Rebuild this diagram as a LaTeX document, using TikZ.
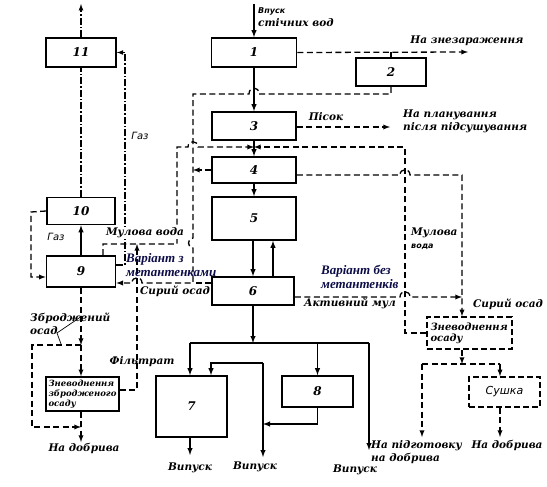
\documentclass[tikz,border=0pt]{standalone}
\usepackage{fontspec}
\setmainfont{DejaVu Serif}
\newfontfamily\varfont{Liberation Serif}
\newfontfamily\sansfam{DejaVu Sans}
\usetikzlibrary{arrows, positioning}
\definecolor{navy}{RGB}{12,12,70}

\begin{document}
\begin{tikzpicture}[x=1pt, y=-1pt, >=latex,
        box/.style={draw, line width=1.6pt, font=\fontsize{12}{13}\selectfont\bfseries\itshape, inner sep=1pt},
        dbox/.style={box, line width=1.4pt, dash pattern=on 6pt off 3pt},
        flow/.style={line width=1.4pt},
        sludge/.style={line width=1.3pt, dash pattern=on 6pt off 3.5pt},
        gas/.style={line width=1.2pt, dash pattern=on 7pt off 2pt on 1.5pt off 2pt},
        lbl/.style={font=\fontsize{10.5}{13}\selectfont\bfseries\itshape, inner sep=1pt, align=left},
        small/.style={font=\fontsize{8.5}{10}\selectfont\bfseries\itshape, align=left},
        variant/.style={font=\varfont\fontsize{13}{14}\selectfont\bfseries\itshape, text=navy, align=left, inner sep=0pt}
    ]
        \useasboundingbox (0,0) rectangle (547,487);

        % Boxes
        \node[box, minimum width=70pt, minimum height=29pt] (b11) at (81,52.5) {11};
        \node[box, minimum width=85pt, minimum height=29pt] (b1) at (254,52.5) {1};
        \node[box, minimum width=70pt, minimum height=28pt] (b2) at (391,72) {2};
        \node[box, minimum width=84pt, minimum height=28pt] (b3) at (254,126) {3};
        \node[box, minimum width=84pt, minimum height=26pt] (b4) at (254,170) {4};
        \node[box, minimum width=84pt, minimum height=43pt] (b5) at (254,218.5) {5};
        \node[box, minimum width=82pt, minimum height=28pt] (b6) at (253,291) {6};
        \node[box, minimum width=68pt, minimum height=27pt] (b10) at (81,211) {10};
        \node[box, minimum width=69pt, minimum height=31pt] (b9) at (81,271.5) {9};
        \node[box, minimum width=71pt, minimum height=61pt] (b7) at (191.5,406.5) {7};
        \node[box, minimum width=71pt, minimum height=31pt] (b8) at (317.5,391.5) {8};
        \node[box, small, minimum width=73pt, minimum height=34pt, inner sep=2pt] (bzz) at (82.5,394) {Зневоднення\\зброджeного\\осаду};
        \node[dbox, small, font=\fontsize{10}{11}\selectfont\bfseries\itshape, minimum width=85pt, minimum height=32pt, text width=78pt] (bzo) at (469.5,333) {Зневоднення\\осаду};
        \node[dbox, font=\sansfam\fontsize{11}{12}\selectfont\itshape, minimum width=71pt, minimum height=30pt] (bsu) at (504.5,392) {Сушка};

        % Points
        \coordinate (in) at (254,4);
        \coordinate (gas1) at (81,4);
        \coordinate (g9) at (125,265);
        \coordinate (dis) at (468,52);
        \coordinate (sand) at (390,127);
        \coordinate (lft2) at (193,94);
        \coordinate (j9) at (193,283);
        \coordinate (mv) at (103,244);
        \coordinate (mv2) at (177,244);
        \coordinate (j34l) at (177,147);
        \coordinate (fil) at (137,390);
        \coordinate (g10) at (31,212);
        \coordinate (zo) at (81,345);
        \coordinate (zl) at (32,345);
        \coordinate (zb) at (81,427);
        \coordinate (nd1) at (81,442);
        \coordinate (ld) at (61,344);
        \coordinate (h4) at (462,175);
        \coordinate (am) at (462,297);
        \coordinate (r1) at (405,333);
        \coordinate (j34r) at (405,147);
        \coordinate (sp) at (462,364);
        \coordinate (spl) at (422,364);
        \coordinate (spr) at (500,364);
        \coordinate (nd2) at (422,437);
        \coordinate (nd3) at (500,437);
        \coordinate (j6) at (253,343);
        \coordinate (d7) at (190,343);
        \coordinate (dout) at (369,343);
        \coordinate (out3) at (369,450);
        \coordinate (r8) at (263,363);
        \coordinate (m8) at (263,424);
        \coordinate (out2) at (263,457);
        \coordinate (out1) at (190,455);

        % Water line
        \draw[flow, ->] (in) -- (b1);
        \draw[flow, ->] (b1) -- (b3);
        \draw[flow, ->] (b3) -- (b4);
        \draw[flow, ->] (b4) -- (b5);
        \draw[flow, ->] ([xshift=-1pt]b5.south) -- (b6.north);
        \draw[flow, ->] ([xshift=20pt]b6.north) -- ([xshift=20pt]b6.north |- b5.south);
        \draw[flow, ->] (b6) -- (j6);
        \draw[flow] (d7) -- (dout);
        \draw[flow, ->] (d7) -- (d7 |- b7.north);
        \draw[flow, ->] (b8.north |- j6) -- (b8.north);
        \draw[flow, ->] (dout) -- (out3);
        \draw[flow, ->] (b8.south) |- (m8);
        \draw[flow, ->] (r8) -- (out2);
        \draw[flow, ->] (r8) -| ([xshift=19.5pt]b7.north);
        \draw[flow, ->] (b7.south -| out1) -- (out1);
        \draw[flow, ->] (b9) -- (b10);

        % Gas
        \draw[gas, ->] (b11) -- (gas1);
        \draw[gas] (b10) -- (b11);
        \draw[gas, ->] (b9.east |- g9) -- (g9) |- (b11.east);

        % Sludge
        \draw[sludge, ->] (b1.east) -- (dis);
        \draw[flow] (b2.north |- b1.east) -- (b2.north);
        \draw[sludge, ->] (b3.east |- sand) -- (sand);
        \draw[sludge, ->] (b2.south) |- (259,94) .. controls (259,86) and (249,86) .. (249,94)
            -- (lft2) -- (193,238) .. controls (187,238) and (187,248) .. (193,248)
            -- (j9) -- (142,283) .. controls (142,276) and (132,276) .. (132,283) -- (b9.east |- j9);
        \draw[sludge, ->] (b4.west) -- (b4.west -| lft2);
        \draw[sludge] (b6.west |- j9) -- (j9);
        \draw[sludge, ->] (b9.north -| mv) -- (mv) -- (mv2) -- (j34l)
            -- (188,147) .. controls (188,140) and (198,140) .. (198,147) -- (b3.south |- j34l);
        \draw[sludge, ->] (bzz.east |- fil) -- (fil) -- (fil |- mv);
        \draw[sludge, ->] (b10.west) -- (g10) |- ([yshift=-5.5pt]b9.west);
        \draw[sludge, ->] (b9.south) -- (zo);
        \draw[sludge, ->] (zo) -- (zo |- bzz.north);
        \draw[sludge, ->] (zo) -- (zl) |- (zb);
        \draw[sludge, ->] (bzz.south -| zo) -- (nd1);
        \draw[line width=0.7pt] (82,316) -- (57,333) -- (ld);
        \draw[sludge, ->] (b4.east |- h4) -- (400,175) .. controls (400,168) and (410,168) .. (410,175)
            -- (h4) -- (h4 |- bzo.north);
        \draw[sludge, ->] (b6.east |- am) -- (400,297) .. controls (400,290) and (410,290) .. (410,297) -- (am);
        \draw[sludge, ->] (bzo.west) -- (r1) -- (j34r) -- (b3.south |- j34r);
        \draw[sludge, ->] (bzo.south -| sp) -- (sp);
        \draw[sludge] (spl) -- (spr);
        \draw[sludge, ->] (spl) -- (nd2);
        \draw[sludge, ->] (spr) -- (spr |- bsu.north);
        \draw[sludge, ->] (bsu.south -| spr) -- (nd3);

        % Labels
        \node[lbl, anchor=west] (lin) at (257,17) {{\sansfam\fontsize{8}{9}\selectfont Впуск}\\стічних вод};
        \node[lbl] (ldis) at (467,41) {На знезараження};
        \node[lbl] (lsand) at (326,117) {Пісок};
        \node[lbl, anchor=west] (lplan) at (402,121) {На планування\\після підсушування};
        \node[lbl, font=\sansfam\fontsize{10}{11}\selectfont\itshape] (lgas1) at (140,136) {Газ};
        \node[lbl, font=\sansfam\fontsize{10}{11}\selectfont\itshape] (lgas2) at (56,237) {Газ};
        \node[lbl, fill=white] (lmv1) at (145,233) {Мулова вода};
        \node[variant, anchor=west] (lvar1) at (126,265) {Варіант з\\метантенками};
        \node[lbl] (lso1) at (175,291) {Сирий осад};
        \node[variant, anchor=west] (lvar2) at (321,277) {Варіант без\\метантенків};
        \node[lbl, anchor=west] (lmv2) at (410,239) {Мулова\\{\sansfam\fontsize{8}{9}\selectfont вода}};
        \node[lbl] (lam) at (350,303) {Активний мул};
        \node[lbl] (lso2) at (508,304) {Сирий осад};
        \node[lbl, anchor=west] (zbl) at (29,324) {Зброджений\\осад};
        \node[lbl] (lfil) at (142,362) {Фільтрат};
        \node[lbl] (lnd1) at (84,448) {На добрива};
        \node[lbl] (lout1) at (190,468) {Випуск};
        \node[lbl] (lout2) at (255,467) {Випуск};
        \node[lbl] (lout3) at (355,470) {Випуск};
        \node[lbl, anchor=west] (lpid) at (370,452) {На підготовку\\на добрива};
        \node[lbl] (lnd3) at (507,445) {На добрива};
    \end{tikzpicture}
\end{document}
